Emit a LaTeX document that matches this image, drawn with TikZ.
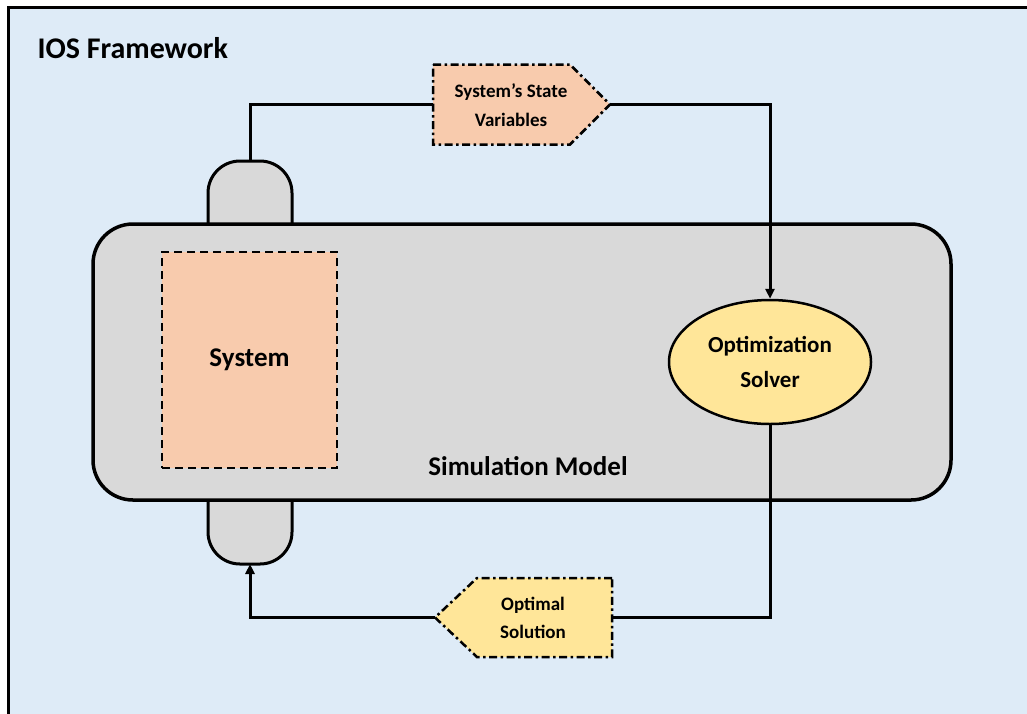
\documentclass[tikz,border=0pt]{standalone}
\usepackage{fontspec}
\setmainfont{Carlito}
\usetikzlibrary{arrows.meta,shapes.geometric}
\definecolor{bgblue}{HTML}{DEEBF7}
\definecolor{simgray}{HTML}{D9D9D9}
\definecolor{sysorange}{HTML}{F8CBAD}
\definecolor{solveryellow}{HTML}{FFE699}
\begin{document}
\begin{tikzpicture}[x=1pt,y=-1pt,
  conn/.style={line width=3pt, draw=black},
  arr/.style={conn, -{Triangle[length=10pt,width=9pt]}},
  tabshape/.style={line width=3pt, draw=black, fill=simgray, rounded corners=32pt},
  dashdotbox/.style={line width=2.5pt, draw=black, dash pattern=on 8pt off 3.5pt on 2.5pt off 3.5pt},
  smalllbl/.style={font=\bfseries\fontsize{19}{28.5}\selectfont, align=center, text=black},
  biglbl/.style={font=\bfseries\fontsize{27}{32}\selectfont, text=black}
]
\useasboundingbox (0,0) rectangle (1027,713);
\clip (0,0) rectangle (1027,713);
\fill[white] (0,0) rectangle (1027,713);
% outer frame
\draw[line width=3.5pt, fill=bgblue] (8.5,7.5) rectangle (1050,730);
\node[anchor=base west, font=\bfseries\fontsize{30}{36}\selectfont] (title) at (34,58) {IOS Framework};

% tabs
\draw[tabshape] (208,226) -- (208,161) -- (292,161) -- (292,226);
\draw[tabshape] (208,497) -- (208,564) -- (292,564) -- (292,497);
\coordinate (toptab) at (250,161);
\coordinate (bottab) at (250,564);

% simulation model
\node[draw, line width=3.5pt, fill=simgray, rounded corners=40pt,
      minimum width=858pt, minimum height=276pt] (sim) at (522,362) {};
\node[biglbl] (simlbl) at (528,466) {Simulation Model};

% system
\node[draw, line width=2.5pt, dash pattern=on 8pt off 5pt, fill=sysorange,
      minimum width=175pt, minimum height=216pt, biglbl] (system) at (249.5,360) {System};

% optimization solver
\node[ellipse, draw, line width=2.5pt, fill=solveryellow, inner sep=0pt,
      minimum width=202pt, minimum height=124pt, align=center,
      font=\bfseries\fontsize{23}{35}\selectfont] (solver) at (770,362) {Optimization\\Solver};

% state variables tag
\draw[dashdotbox, fill=sysorange] (433,64.5) -- (570,64.5) -- (610,104.5) -- (570,144.5) -- (433,144.5) -- cycle;
\node[smalllbl] (state) at (511,105) {System's State\\Variables};
\coordinate (stateIn) at (433,104.5);
\coordinate (stateTip) at (610,104.5);

% optimal solution tag
\draw[dashdotbox, fill=solveryellow] (612,578) -- (477,578) -- (435,617.5) -- (477,657) -- (612,657) -- cycle;
\node[smalllbl] (optimal) at (533,618) {Optimal\\Solution};
\coordinate (optIn) at (612,617.5);
\coordinate (optTip) at (435,617.5);

% connectors
\draw[conn] (toptab) |- (stateIn);
\draw[arr] (stateTip) -| (solver.north);
\draw[conn] (solver.south) |- (optIn);
\draw[arr] (optTip) -| (bottab);
\end{tikzpicture}
\end{document}
